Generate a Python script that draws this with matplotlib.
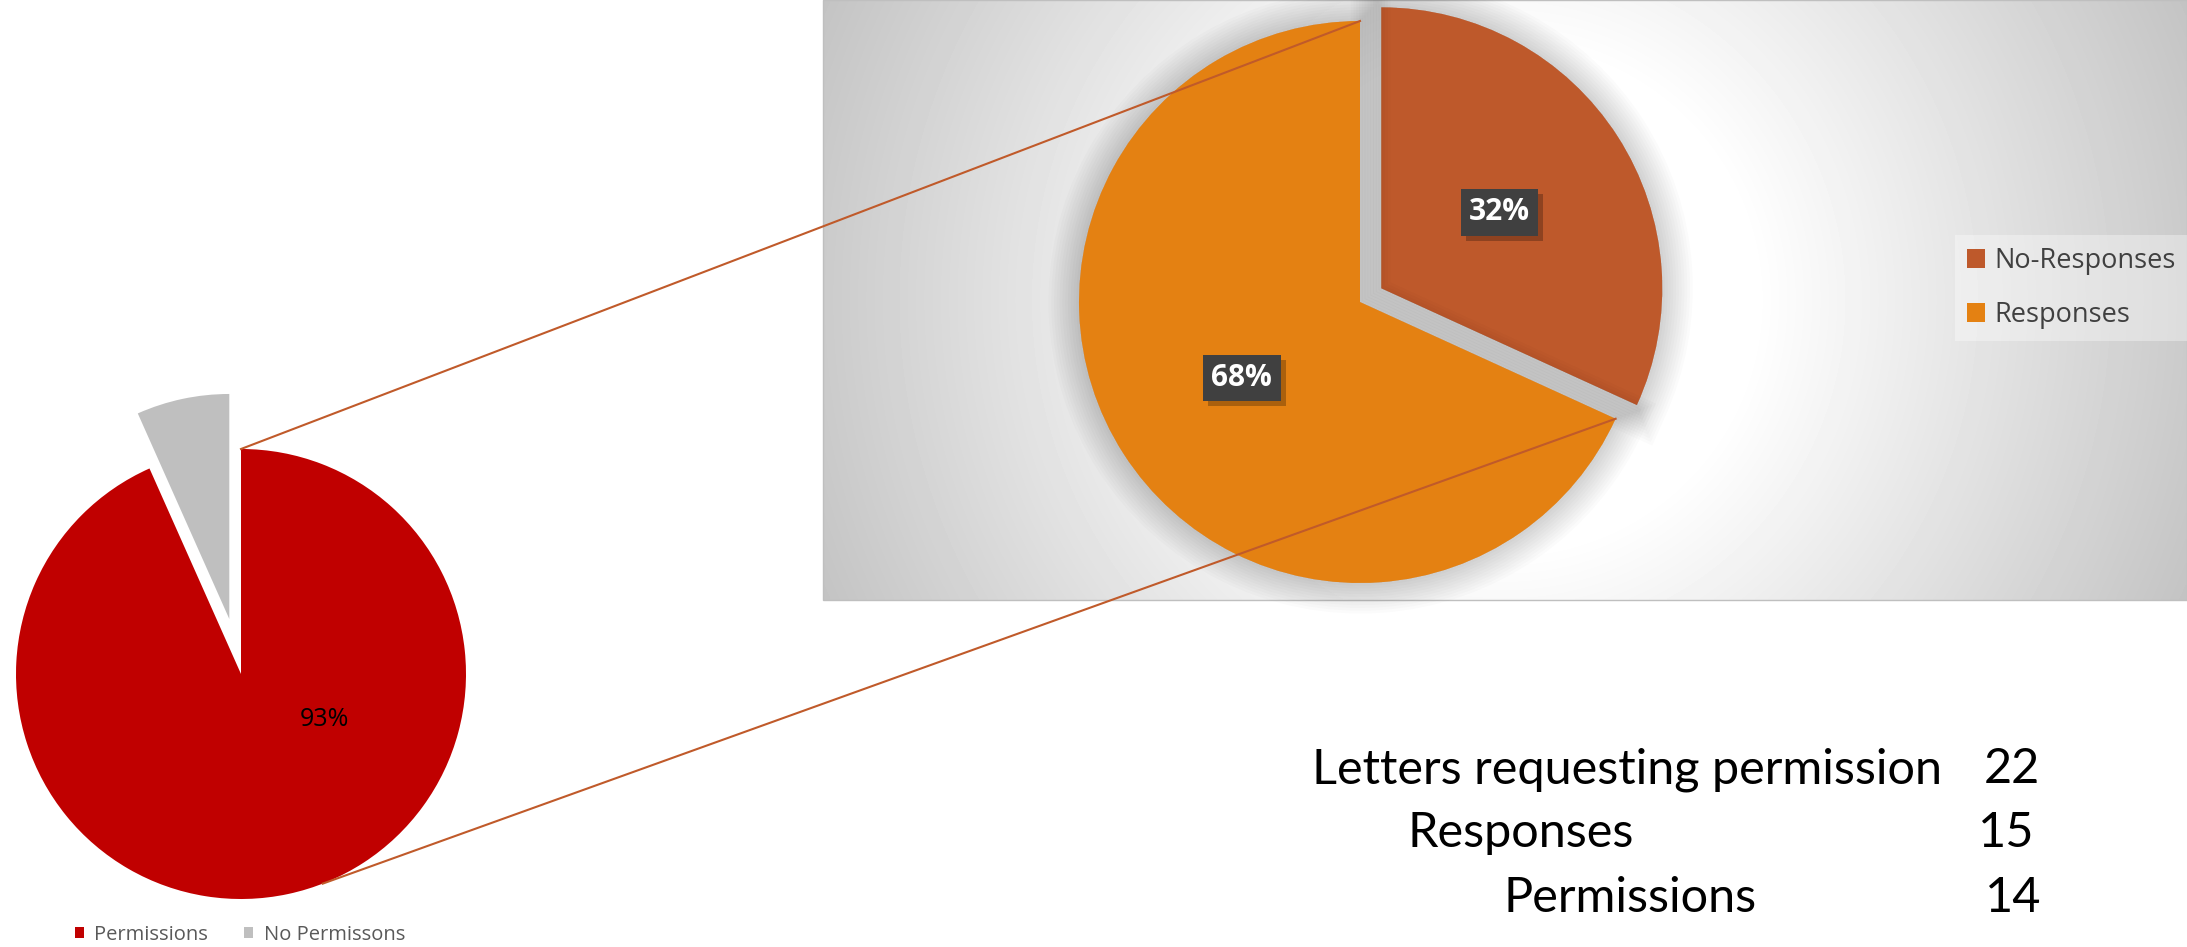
import numpy as np
import matplotlib.pyplot as plt
from matplotlib import patheffects as pe
from matplotlib.patches import Patch, Rectangle

# data
letters = 22
responses = 15
permissions = 14
left_labels = ['Permissions', 'No Permissons']
left_values = [permissions, responses - permissions]
right_labels = ['No-Responses', 'Responses']
right_values = [letters - responses, responses]
summary_labels = ['Letters requesting permission', 'Responses', 'Permissions']
summary_values = [letters, responses, permissions]

left_colors = ['#C00000', '#BFBFBF']
right_colors = ['#BE592B', '#E48112']
line_color = '#C05A2A'
ui_font = ['Open Sans', 'DejaVu Sans']

W, H = 2187, 947
fig = plt.figure(figsize=(W / 100, H / 100), dpi=100)


def place(cx, cy, half):
    # square axes centred on a pixel position (y measured from the top)
    return fig.add_axes([(cx - half) / W, 1 - (cy + half) / H, 2 * half / W, 2 * half / H])


# grey gradient panel behind the right pie
bg = fig.add_axes([0, 0, 1, 1])
bg.set_xlim(0, W)
bg.set_ylim(H, 0)
bg.axis('off')
gx, gy = np.meshgrid(np.linspace(823, W, 400), np.linspace(0, 600, 200))
dist = np.hypot(gx - 1505, gy - 300)
shade = 1 - (60 / 255) * np.clip((dist - 250) / 500, 0, 1)
bg.imshow(shade, cmap='gray', vmin=0, vmax=1, extent=(823, W, 600, 0),
          aspect='auto', interpolation='bilinear')
bg.add_patch(Rectangle((823, 0), W - 823, 600, fill=False, ec='#BFBFBF', lw=1))

# left pie
lc, lr = (241, 674), 225
ax1 = place(lc[0], lc[1], 1.4 * lr)
w1, _ = ax1.pie(left_values, colors=left_colors, startangle=90, counterclock=False,
                explode=[0, 0.25], wedgeprops=dict(linewidth=0))
ax1.set_xlim(-1.4, 1.4)
ax1.set_ylim(-1.4, 1.4)
ax1.text(0.37, -0.2, f'{100 * left_values[0] / sum(left_values):.0f}%',
         ha='center', va='center', fontsize=18, family=ui_font, color='black')
ax1.legend([Patch(fc=c) for c in left_colors], left_labels, loc='center',
           bbox_to_anchor=(240 / W, 1 - 935 / H), bbox_transform=fig.transFigure,
           ncol=2, frameon=False, prop={'family': ui_font, 'size': 14.5},
           labelcolor='#595959', handlelength=0.45, handleheight=0.45,
           handletextpad=0.5, columnspacing=1.8)

# right pie with a soft glow
rc, rr = (1360, 302), 281
ax2 = place(rc[0], rc[1], 1.3 * rr)
glow = [pe.Stroke(linewidth=w, foreground='black', alpha=0.014) for w in np.arange(44, 3, -4)]
glow.append(pe.Normal())
w2, _, pct = ax2.pie(right_values, colors=right_colors, startangle=90, counterclock=False,
                     explode=[0.09, 0], autopct='%1.0f%%', pctdistance=0.5,
                     wedgeprops=dict(linewidth=0, path_effects=glow),
                     textprops=dict(color='white', fontsize=21.5, fontweight='bold', family=ui_font))
ax2.set_xlim(-1.3, 1.3)
ax2.set_ylim(-1.3, 1.3)
for t in pct:
    t.set_bbox(dict(boxstyle='square,pad=0.28', fc='#404040', ec='none'))
    t.set_zorder(3)

ax2.legend([Patch(fc=c) for c in right_colors], right_labels, loc='center left',
           bbox_to_anchor=(1941 / W, 1 - 288 / H), bbox_transform=fig.transFigure,
           prop={'family': ui_font, 'size': 19.5}, labelcolor='#404040',
           handlelength=0.67, handleheight=0.67, handletextpad=0.35, labelspacing=0.97,
           frameon=True, facecolor='white', framealpha=0.35, edgecolor='none',
           fancybox=False, borderpad=0.45)

# drop shadows for the percentage boxes, sized from the drawn boxes
fig.canvas.draw()
inv = ax2.transData.inverted()
for t in pct:
    ext = t.get_bbox_patch().get_window_extent()
    (x0, y0), (x1, y1) = inv.transform([[ext.x0 + 5, ext.y0 - 5], [ext.x1 + 5, ext.y1 - 5]])
    ax2.add_patch(Rectangle((x0, y0), x1 - x0, y1 - y0, fc='black', alpha=0.25, ec='none', zorder=2.5))

# connector lines and summary text on top
ov = fig.add_axes([0, 0, 1, 1], zorder=5)
ov.set_xlim(0, W)
ov.set_ylim(H, 0)
ov.axis('off')
a_right = np.deg2rad(90 - 360 * right_values[0] / sum(right_values))
a_left = np.deg2rad(-68.7)
ov.plot([lc[0], rc[0]], [lc[1] - lr, rc[1] - rr], color=line_color, lw=1.5)
ov.plot([lc[0] + lr * np.cos(a_left), rc[0] + rr * np.cos(a_right)],
        [lc[1] - lr * np.sin(a_left), rc[1] - rr * np.sin(a_right)], color=line_color, lw=1.5)

text_font = ['Lato', 'DejaVu Sans']
label_x = [1312, 1407, 1503]
value_x = [2012, 2006, 2013]
baselines = [783, 847, 912]
for lab, val, lx, vx, by in zip(summary_labels, summary_values, label_x, value_x, baselines):
    ov.text(lx, by, lab, ha='left', va='baseline', fontsize=35, family=text_font, color='black')
    ov.text(vx, by, str(val), ha='center', va='baseline', fontsize=35, family=text_font, color='black')

fig.savefig('out.png', dpi=100)
